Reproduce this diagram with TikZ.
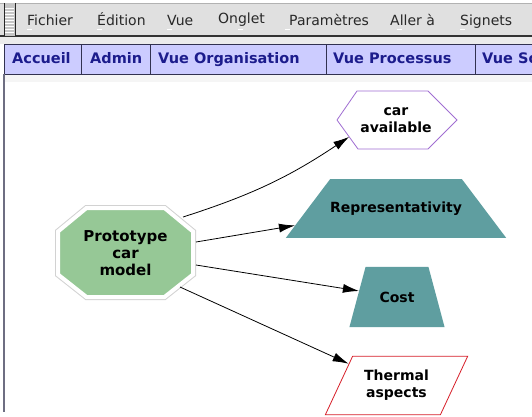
\documentclass[tikz,border=0pt]{standalone}
\usepackage{fontspec}
\setmainfont{DejaVu Sans}
\usetikzlibrary{shapes.geometric,arrows.meta,calc}

\definecolor{menubg}{RGB}{224,224,224}
\definecolor{menutext}{RGB}{40,40,40}
\definecolor{tabbg}{RGB}{204,204,255}
\definecolor{tabtext}{RGB}{28,28,140}
\definecolor{tabline}{RGB}{50,50,80}
\definecolor{sideline}{RGB}{110,110,130}
\definecolor{octgreen}{RGB}{150,200,150}
\definecolor{trapteal}{RGB}{95,158,160}
\definecolor{hexpurple}{RGB}{160,110,210}
\definecolor{thermred}{RGB}{215,30,40}

\begin{document}
\begin{tikzpicture}[x=1pt,y=1pt]
			\tikzstyle{every node}=[font=\bfseries\fontsize{14}{17}\selectfont, align=center, inner sep=0pt]
			\tikzstyle{menuitem}=[font=\fontsize{14}{17}\selectfont, text=menutext, anchor=base west]
			\tikzstyle{tabitem}=[font=\bfseries\fontsize{14.5}{17}\selectfont, text=tabtext, anchor=base west]
			\tikzstyle{trap}=[trapezium, fill=trapteal]
			\tikzstyle{arr}=[-{Latex[length=16pt,width=9pt]}, line width=0.8pt]
			
			\useasboundingbox (0,0) rectangle (532,-416);
			\clip (0,0) rectangle (532,-416);
			\fill[white] (0,0) rectangle (532,-416);
			
			%Menueleiste
			\fill[menubg] (0,-3) rectangle (532,-36);
			\draw[gray!60] (0,-3) -- (532,-3);
			\draw[gray!40!black, line width=1.5pt] (0,-36) -- (532,-36);
			\fill[gray!15] (0,-37) rectangle (532,-44);
			\fill[gray!45] (4,-3) rectangle (15,-36);
			\draw[gray!30!black] (15,-3) -- (15,-36) (4,-3) -- (4,-36);
			\foreach \y in {8,11,...,32}
				\draw[white] (5,-\y) -- (14,-\y);
			
			\node[menuitem] (fichier) at (27,-25) {Fichier};
			\node[menuitem] (edition) at (97,-25) {Édition};
			\node[menuitem] (vue) at (167,-25) {Vue};
			\node[menuitem] (onglet) at (218,-23) {Onglet};
			\node[menuitem] (param) at (289,-25) {Paramètres};
			\node[menuitem] (aller) at (390,-25) {Aller à};
			\node[menuitem] (signets) at (460,-25) {Signets};
			\foreach \x in {27,97,167,238,285,397,460}
				\draw[white, line width=0.8pt] (\x,-29.5) -- (\x+5,-29.5);
			
			%Reiter
			\fill[tabbg] (4,-44) rectangle (532,-74);
			\draw[tabline, line width=1pt] (532,-44) -- (4,-44) -- (4,-74) -- (532,-74);
			\foreach \x in {81,150,326,475}
				\draw[tabline, line width=1pt] (\x,-44) -- (\x,-74);
			\node[tabitem] (accueil) at (12,-63) {Accueil};
			\node[tabitem] (admin) at (90,-63) {Admin};
			\node[tabitem] (vueorg) at (158,-63) {Vue Organisation};
			\node[tabitem] (vueproc) at (333,-63) {Vue Processus};
			\node[tabitem] (vueso) at (482,-63) {Vue So};
			\fill[gray!8] (5,-75) rectangle (532,-82);
			\draw[sideline, line width=1.5pt] (4,-74) -- (4,-412);
			
			%Achteck
			\draw[white, line width=4pt, fill=octgreen, preaction={draw=gray!35, line width=6pt}] (58,-231.5) -- (86.5,-208) -- (164.5,-208) -- (193,-231.5) -- (193,-274.5) -- (164.5,-297) -- (86.5,-297) -- (58,-274.5) -- cycle;
			\node[font=\bfseries\fontsize{15}{17}\selectfont] (proto) at (125.5,-253) {Prototype\\car\\model};
			
			%Sechseck
			\draw[hexpurple, line width=0.8pt, fill=white] (337,-120) coordinate (hexL) -- (357,-91) -- (428,-91) -- (457,-120) -- (428,-149) -- (358,-149) coordinate (hexBL) -- cycle;
			\node (car) at (396,-120.5) {car\\available};
			
			%Trapeze
			\node[trap, trapezium left angle=53, trapezium right angle=53, inner xsep=0pt, inner ysep=22.5pt] (repr) at (396,-208.5) {Representativity};
			\node[trap, trapezium left angle=75, trapezium right angle=75, inner xsep=14pt, inner ysep=24.75pt] (cost) at (397,-297) {Cost};
			\node[trapezium, trapezium left angle=65, trapezium right angle=115, inner xsep=11.5pt, inner ysep=14pt, draw=thermred, fill=white, line width=0.8pt] (therm) at (396.5,-385.5) {Thermal\\aspects};
			
			%Pfeile
			\coordinate (protoA) at (183,-217);
			\coordinate (protoB) at (196,-242);
			\coordinate (protoC) at (196,-265);
			\coordinate (protoD) at (180,-287);
			\coordinate (carA) at ($(hexL)!0.58!(hexBL)$);
			\draw[arr] (protoA) to[bend right=8] (carA);
			\draw[arr] (protoB) -- (repr);
			\draw[arr] (protoC) -- (cost);
			\draw[arr] (protoD) -- (therm);
\end{tikzpicture}
\end{document}
